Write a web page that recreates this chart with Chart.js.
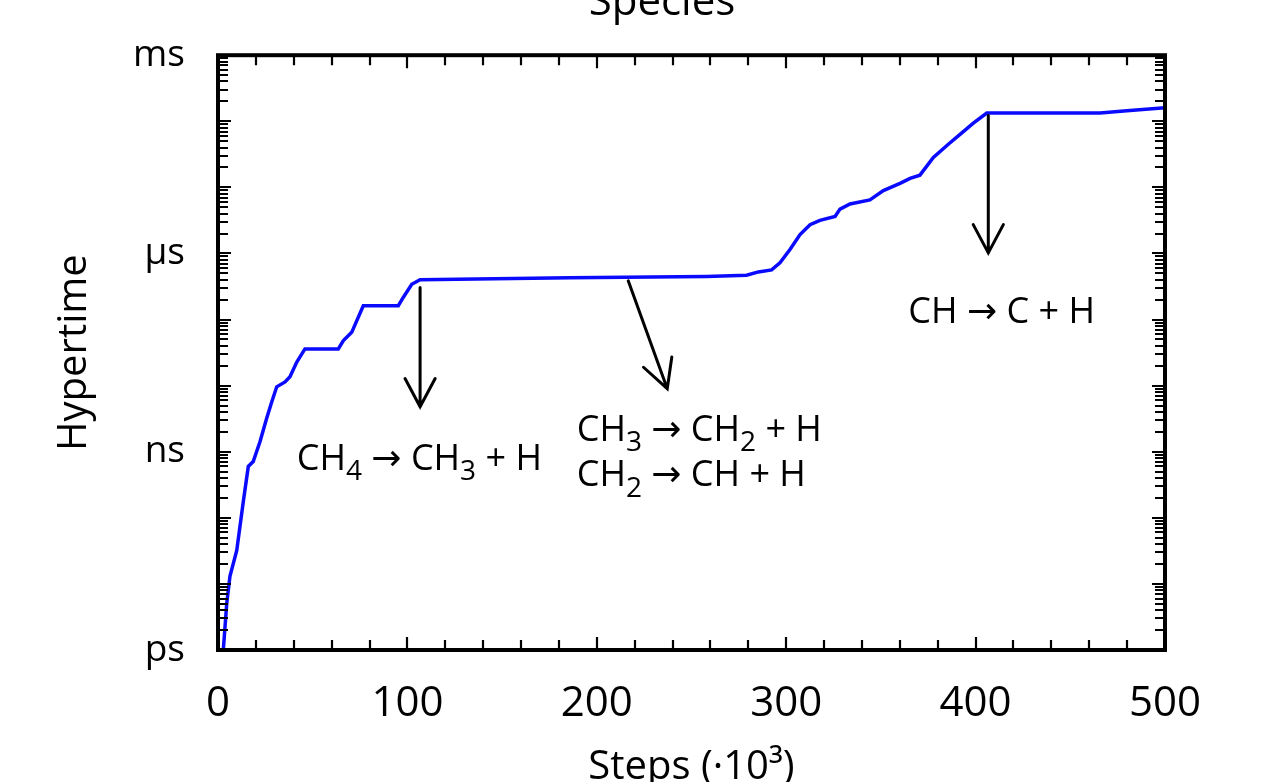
<!DOCTYPE html>
<html>
<head>
<meta charset="utf-8">
<script src="https://cdn.jsdelivr.net/npm/chart.js@4"></script>
<style>
  html, body { margin: 0; padding: 0; background: #fff; }
</style>
</head>
<body>
<canvas id="hyperChart" width="1261" height="782"></canvas>
<script>
// simulation steps (x 10^3) and hypertime reached (seconds)
const steps = [
  2.8, 4.6, 6.3, 9.9, 13.4, 16.0, 18.6, 22.2, 25.7, 28.4,
  31.0, 35.4, 38.0, 41.6, 45.9, 63.5, 66.2, 70.6, 76.7, 95.2,
  97.8, 102.3, 106.7, 185.8, 258.0, 279.1, 285.3, 292.3, 296.7, 302.0,
  307.3, 312.6, 317.8, 325.8, 328.4, 333.7, 344.2, 351.3, 360.1, 365.4,
  370.6, 377.7, 385.6, 391.8, 398.8, 405.9, 465.7, 481.5, 500.0
];
const hypertime = [
  1.0e-12, 5.0e-12, 1.3e-11, 3.2e-11, 1.8e-10, 6.0e-10, 7.1e-10, 1.43e-9, 3.2e-9, 5.7e-9,
  9.6e-9, 1.14e-8, 1.36e-8, 2.28e-8, 3.6e-8, 3.6e-8, 4.8e-8, 6.4e-8, 1.62e-7, 1.62e-7,
  2.16e-7, 3.42e-7, 4.0e-7, 4.3e-7, 4.5e-7, 4.7e-7, 5.26e-7, 5.64e-7, 7.24e-7, 1.15e-6,
  1.93e-6, 2.72e-6, 3.17e-6, 3.64e-6, 4.69e-6, 5.62e-6, 6.47e-6, 8.95e-6, 1.15e-5, 1.37e-5,
  1.53e-5, 2.83e-5, 4.49e-5, 6.34e-5, 9.4e-5, 1.33e-4, 1.33e-4, 1.46e-4, 1.60e-4
];

const yTickValues = [1e-12, 1e-9, 1e-6, 1e-3];
const yTickLabels = ['ps', 'ns', 'µs', 'ms'];
const xMajorStep = 100;
const xMinorStep = 20;

// arrows pointing from the curve to the reactions, [step, time]
const arrowFrom = [[106.7, 3.05e-7], [216.6, 3.85e-7], [406.7, 1.22e-4]];
const arrowTo = [[106.7, 4.8e-9], [237.2, 9.0e-9], [406.7, 1.02e-6]];

// reaction labels, anchored at left/baseline; '_' marks a subscript
const reactionAt = [[41.6, 5.37e-10], [189.4, 1.47e-9], [189.4, 3.01e-10], [364.5, 8.85e-8]];
const reactionParts = [
  ['CH', '_4', ' → CH', '_3', ' + H'],
  ['CH', '_3', ' → CH', '_2', ' + H'],
  ['CH', '_2', ' → CH + H'],
  ['CH → C + H']
];

const FONT = '"Open Sans", "DejaVu Sans", sans-serif';

// closed black frame with inward ticks on all four sides
const frameTicks = {
  id: 'frameTicks',
  afterDatasetsDraw(chart) {
    const { ctx, chartArea: a, scales: { x, y } } = chart;
    ctx.save();
    ctx.strokeStyle = '#000';
    ctx.lineWidth = 2.2;
    ctx.beginPath();
    for (let v = x.min; v <= x.max + 1e-9; v += xMinorStep) {
      const px = Math.round(x.getPixelForValue(v));
      const len = v % xMajorStep === 0 ? 13 : 10;
      ctx.moveTo(px, a.bottom); ctx.lineTo(px, a.bottom - len);
      ctx.moveTo(px, a.top); ctx.lineTo(px, a.top + len);
    }
    const kLo = Math.round(Math.log10(y.min));
    const kHi = Math.round(Math.log10(y.max));
    for (let k = kLo; k <= kHi; k++) {
      for (let m = 1; m <= 9; m++) {
        if (k === kHi && m > 1) break;
        const py = Math.round(y.getPixelForValue(m * Math.pow(10, k)));
        const len = m === 1 ? 13 : 10;
        ctx.moveTo(a.left, py); ctx.lineTo(a.left + len, py);
        ctx.moveTo(a.right, py); ctx.lineTo(a.right - len, py);
      }
    }
    ctx.stroke();
    ctx.lineWidth = 4;
    ctx.strokeRect(a.left, a.top, a.right - a.left, a.bottom - a.top);
    ctx.restore();
  }
};

function drawArrow(ctx, x0, y0, x1, y1) {
  const ang = Math.atan2(y1 - y0, x1 - x0);
  const head = 32, spread = 0.49;
  ctx.beginPath();
  ctx.moveTo(x0, y0);
  ctx.lineTo(x1, y1);
  ctx.moveTo(x1 - head * Math.cos(ang - spread), y1 - head * Math.sin(ang - spread));
  ctx.lineTo(x1, y1);
  ctx.lineTo(x1 - head * Math.cos(ang + spread), y1 - head * Math.sin(ang + spread));
  ctx.stroke();
}

function drawFormula(ctx, x0, y0, parts, size) {
  let cx = x0;
  parts.forEach(p => {
    const sub = p.startsWith('_');
    const t = sub ? p.slice(1) : p;
    ctx.font = (sub ? Math.round(size * 0.78) : size) + 'px ' + FONT;
    ctx.fillText(t, cx, sub ? y0 + size * 0.3 : y0);
    cx += ctx.measureText(t).width;
  });
}

const reactionNotes = {
  id: 'reactionNotes',
  afterDraw(chart) {
    const { ctx, scales: { x, y } } = chart;
    ctx.save();
    ctx.strokeStyle = '#000';
    ctx.fillStyle = '#000';
    ctx.lineWidth = 3;
    ctx.lineCap = 'round';
    arrowFrom.forEach((f, i) => {
      const t = arrowTo[i];
      drawArrow(ctx, x.getPixelForValue(f[0]), y.getPixelForValue(f[1]),
        x.getPixelForValue(t[0]), y.getPixelForValue(t[1]));
    });
    ctx.textAlign = 'left';
    ctx.textBaseline = 'alphabetic';
    reactionAt.forEach((p, i) => {
      drawFormula(ctx, x.getPixelForValue(p[0]), y.getPixelForValue(p[1]), reactionParts[i], 36);
    });
    ctx.restore();
  }
};

new Chart(document.getElementById('hyperChart'), {
  type: 'line',
  data: {
    datasets: [{
      label: 'Species',
      data: steps.map((s, i) => ({ x: s, y: hypertime[i] })),
      borderColor: '#0a0aff',
      borderWidth: 3.5,
      pointRadius: 0,
      tension: 0,
      fill: false
    }]
  },
  options: {
    responsive: false,
    animation: false,
    // the empty right-hand axis keeps the plot narrow while the title sits off-centre
    layout: { padding: { left: 0, right: -63, top: -26, bottom: -10 } },
    plugins: {
      legend: { display: false },
      tooltip: { enabled: false },
      title: {
        display: true,
        text: 'Species',
        color: '#000',
        font: { family: FONT, size: 42, weight: 'normal' },
        padding: { top: 0, bottom: 26.6 }
      }
    },
    scales: {
      x: {
        type: 'linear',
        min: 0,
        max: 500,
        afterFit: s => { s.height = 142; },
        grid: { display: false, drawTicks: false },
        border: { display: false },
        ticks: {
          stepSize: xMajorStep,
          maxRotation: 0,
          color: '#000',
          padding: 29,
          font: { family: FONT, size: 42 }
        },
        title: {
          display: true,
          text: 'Steps (·10³)',
          color: '#000',
          font: { family: FONT, size: 40 },
          padding: { top: 0, bottom: 0 }
        }
      },
      y: {
        type: 'logarithmic',
        min: 1e-12,
        max: 1e-3,
        afterFit: s => { s.width = 218; },
        afterBuildTicks: s => { s.ticks = yTickValues.map(v => ({ value: v })); },
        grid: { display: false, drawTicks: false },
        border: { display: false },
        ticks: {
          autoSkip: false,
          color: '#000',
          padding: 33,
          font: { family: FONT, size: 37 },
          callback: v => {
            const i = yTickValues.findIndex(t => Math.abs(Math.log10(t) - Math.log10(v)) < 1e-6);
            return i >= 0 ? yTickLabels[i] : '';
          }
        },
        title: {
          display: true,
          text: 'Hypertime',
          color: '#000',
          font: { family: FONT, size: 40 },
          padding: { top: 51, bottom: 0 }
        }
      },
      spacer: {
        type: 'linear',
        position: 'right',
        afterFit: s => { s.width = 159; },
        grid: { display: false, drawTicks: false },
        border: { display: false },
        ticks: { display: false }
      }
    }
  },
  plugins: [frameTicks, reactionNotes]
});
</script>
</body>
</html>
